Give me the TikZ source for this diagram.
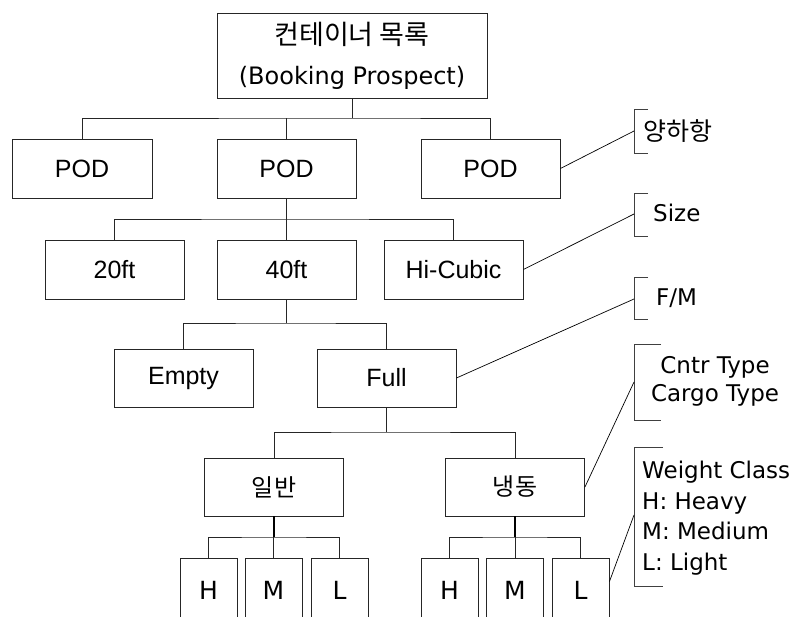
\documentclass[tikz,border=0pt]{standalone}
\usepackage{fontspec}
\setmainfont{Liberation Sans}
\newfontfamily\kr{Noto Sans CJK KR}
\newfontfamily\dvs{DejaVu Sans}
\begin{document}
\begin{tikzpicture}[x=1pt,y=-1pt,
  box/.style={draw=black!85, line width=0.9pt, inner sep=0pt, minimum width=139pt, minimum height=59pt, font=\fontsize{25}{30}\selectfont},
  sbox/.style={draw=black!85, line width=0.9pt, inner sep=0pt, minimum width=57pt, minimum height=64pt, font=\dvs\fontsize{25}{30}\selectfont},
  krbox/.style={box, font=\kr\fontsize{24}{30}\selectfont},
  wire/.style={draw=black!85, line width=0.9pt},
  thick wire/.style={draw=black, line width=1.8pt},
  brk/.style={draw=black!75, line width=0.9pt},
  lab/.style={inner sep=0pt, font=\dvs\fontsize{23}{28}\selectfont},
  pointer/.style={draw=black, line width=0.7pt}]
\useasboundingbox (0,0) rectangle (802,617);
\clip (0,0) rectangle (802,617);
\fill[white] (0,0) rectangle (802,617);

% root
\node[box, minimum width=270pt, minimum height=85pt, align=center, font=\dvs\fontsize{24}{40}\selectfont] (root) at (352,55.5)
  {{\kr\fontsize{27}{40}\selectfont 컨테이너 목록}\\(Booking Prospect)};

% level 1
\node[box, minimum width=140pt] (pod1) at (82,168.5) {POD};
\node[box] (pod2) at (286.5,168.5) {POD};
\node[box] (pod3) at (490.5,168.5) {POD};
% level 2
\node[box] (s20) at (114.5,269.5) {20ft};
\node[box] (s40) at (286.5,269.5) {40ft};
\node[box] (shc) at (453.5,269.5) {Hi-Cubic};
% level 3
\node[box, minimum height=58pt] (emp) at (183.5,378) {Empty};
\node[box, minimum height=58pt] (ful) at (386.5,378) {Full};
% level 4
\node[krbox, minimum height=58pt] (gen) at (274,487) {일반};
\node[krbox, minimum height=58pt] (ref) at (515,487) {냉동};
% level 5
\node[sbox] (gh) at (208.5,590) {H};
\node[sbox] (gm) at (273.5,590) {M};
\node[sbox] (gl) at (339.5,590) {L};
\node[sbox] (rh) at (449.5,590) {H};
\node[sbox] (rm) at (515,590) {M};
\node[sbox] (rl) at (580.5,590) {L};

% buses
\coordinate (b1) at (352,118);
\draw[wire] (root.south) -- (b1);
\draw[wire] (pod1.north) |- (b1) -| (pod3.north);
\draw[wire] (pod2.north) -- (pod2.north |- b1);

\coordinate (b2) at (286.5,219);
\draw[wire] (pod2.south) -- (b2);
\draw[wire] (s20.north) |- (b2) -| (shc.north);
\draw[wire] (s40.north) -- (b2);

\coordinate (b3) at (286.5,323);
\draw[wire] (s40.south) -- (b3);
\draw[wire] (emp.north) |- (b3) -| (ful.north);

\coordinate (b4) at (386.5,432);
\draw[wire] (ful.south) -- (b4);
\draw[wire] (gen.north) |- (b4) -| (ref.north);

\coordinate (b5) at (274,537);
\draw[thick wire] (gen.south) -- (b5);
\draw[wire] (gh.north) |- (b5) -| (gl.north);
\draw[wire] (gm.north) -- (gm.north |- b5);

\coordinate (b6) at (515,537);
\draw[thick wire] (ref.south) -- (b6);
\draw[wire] (rh.north) |- (b6) -| (rl.north);
\draw[wire] (rm.north) -- (rm.north |- b6);

% annotation labels
\node[lab, anchor=west, font=\kr\fontsize{25}{30}\selectfont] (a1) at (643,131) {양하항};
\node[lab, anchor=west] (a2) at (653,213) {Size};
\node[lab, anchor=west] (a3) at (656,298) {F/M};
\node[lab, align=center] (a4) at (715,381) {Cntr Type\\Cargo Type};
\node[lab, align=left, anchor=west, font=\dvs\fontsize{23}{30.5}\selectfont] (a5) at (642,518)
  {Weight Class\\H: Heavy\\M: Medium\\L: Light};

% brackets
\draw[brk] (648,109) -- (634,109) -- (634,153) -- (648,153);
\draw[brk] (648,193) -- (634,193) -- (634,236) -- (648,236);
\draw[brk] (648,277) -- (634,277) -- (634,319) -- (648,319);
\draw[brk] (661,344) -- (634,344) -- (634,420) -- (661,420);
\draw[brk] (663,447) -- (634,447) -- (634,586) -- (663,586);

\coordinate (k1) at (634,131);
\coordinate (k2) at (634,214);
\coordinate (k3) at (634,299);
\coordinate (k4) at (634,382);
\coordinate (k5) at (634,515);

% pointers
\draw[pointer] (pod3.east) -- (k1);
\draw[pointer] (shc.east) -- (k2);
\draw[pointer] (ful.east) -- (k3);
\draw[pointer] (ref.east) -- (k4);
\draw[pointer] ([yshift=-24pt]rl.north east) -- (k5);
\end{tikzpicture}
\end{document}
